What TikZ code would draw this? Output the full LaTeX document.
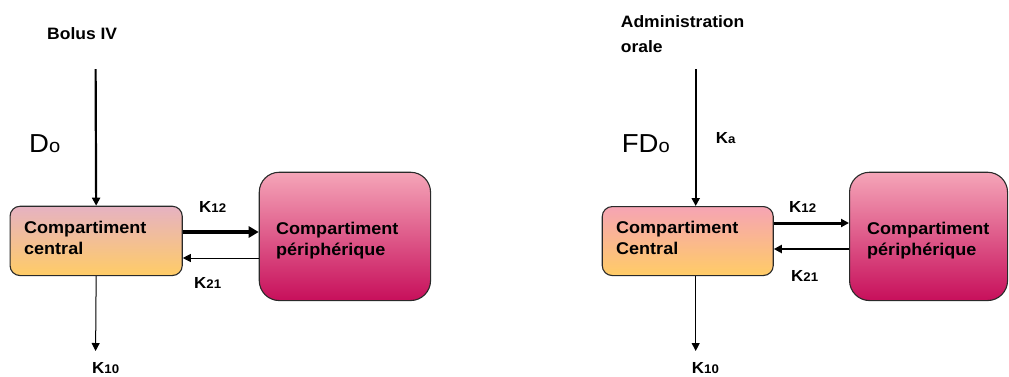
\documentclass[tikz,border=0pt]{standalone}
\usepackage{fontspec}
\setmainfont{Liberation Sans}[FakeStretch=1.06]
\usetikzlibrary{arrows.meta}

\definecolor{cenTopA}{HTML}{E6B2C2}
\definecolor{cenTopB}{HTML}{F6A4B4}
\definecolor{cenBot}{HTML}{FFCC66}
\definecolor{perTop}{HTML}{F5A5B8}
\definecolor{perBot}{HTML}{C70F5B}
\definecolor{rim}{HTML}{2A2A2A}

% smaller index after a rate constant or dose symbol
\newcommand\idx[1]{{\fontsize{12.5}{14}\selectfont #1}}
\newcommand\doseidx[1]{{\fontsize{19}{20}\selectfont #1}}

\begin{document}
\begin{tikzpicture}[x=1pt,y=-1pt,
  box/.style={draw=rim, line width=1.1pt, rectangle, inner sep=0pt, anchor=north west},
  central/.style={box, rounded corners=10pt, bottom color=cenBot},
  periph/.style={box, rounded corners=20pt, top color=perTop, bottom color=perBot},
  % two-line labels: the base anchor sits on the last line
  boxtext/.style={anchor=base west, inner sep=0pt, align=left,
    font=\fontsize{17}{21}\selectfont\bfseries},
  headtext/.style={anchor=base west, inner sep=0pt, align=left,
    font=\fontsize{16.5}{25}\selectfont\bfseries},
  ktext/.style={anchor=base west, inner sep=0pt, font=\fontsize{16}{18}\selectfont\bfseries},
  dose/.style={anchor=base west, inner sep=0pt, font=\fontsize{26}{30}\selectfont},
  flow/.style={-{Triangle[length=8pt,width=8pt]}, line width=#1},
  bigflow/.style={-{Triangle[length=10pt,width=11pt]}, line width=#1},
]
\useasboundingbox (0,0) rectangle (1009,376);

% ---------- two-compartment model, intravenous bolus ----------
\node[central, top color=cenTopA, minimum width=172.2pt, minimum height=69.3pt]
  (cenL) at (9.5,205.7) {};
\node[periph, minimum width=171.3pt, minimum height=128.3pt]
  (perL) at (258.7,171.7) {};
\node[boxtext] (cenLtxt) at (24,254.5) {Compartiment\\central};
\node[boxtext] (perLtxt) at (276,255) {Compartiment\\périphérique};

\node[headtext] (bolus) at (47,39) {Bolus IV};
\node[dose] (doseL) at (29,152) {D\doseidx{o}};
\coordinate (inL) at (95.6,69);
\coordinate (outL) at (95.6,351);
\coordinate (l12) at (0,232);
\coordinate (l21) at (0,258);

\draw[flow=2.2pt] (inL) -- (cenL.north);
\draw[bigflow=4pt] (cenL.east |- l12) -- (perL.west |- l12);
\draw[flow=1pt] (perL.west |- l21) -- (cenL.east |- l21);
\draw[flow=1pt] (cenL.south) -- (outL);

\node[ktext] (k12L) at (199,212) {K\idx{12}};
\node[ktext] (k21L) at (194,288.5) {K\idx{21}};
\node[ktext] (k10L) at (92,373) {K\idx{10}};

% ---------- two-compartment model, oral route ----------
\node[central, top color=cenTopB, minimum width=171pt, minimum height=69pt]
  (cenR) at (601.7,206) {};
\node[periph, minimum width=158pt, minimum height=128.3pt]
  (perR) at (849,171.7) {};
\node[boxtext] (cenRtxt) at (616,254.5) {Compartiment\\Central};
\node[boxtext] (perRtxt) at (867,255) {Compartiment\\périphérique};

\node[headtext] (oral) at (620.7,52) {Administration\\orale};
\node[dose] (doseR) at (621.7,152) {FD\doseidx{o}};
\node[ktext] (ka) at (715.7,143) {K\idx{a}};
\coordinate (inR) at (695.7,69);
\coordinate (outR) at (695.7,351);
\coordinate (r12) at (0,223);
\coordinate (r21) at (0,249);

\draw[flow=2.2pt] (inR) -- (cenR.north -| inR);
\draw[flow=3pt] (cenR.east |- r12) -- (perR.west |- r12);
\draw[flow=2pt] (perR.west |- r21) -- (cenR.east |- r21);
\draw[flow=1pt] (cenR.south -| outR) -- (outR);

\node[ktext] (k12R) at (789,212) {K\idx{12}};
\node[ktext] (k21R) at (791,281) {K\idx{21}};
\node[ktext] (k10R) at (691.7,373) {K\idx{10}};
\end{tikzpicture}
\end{document}
